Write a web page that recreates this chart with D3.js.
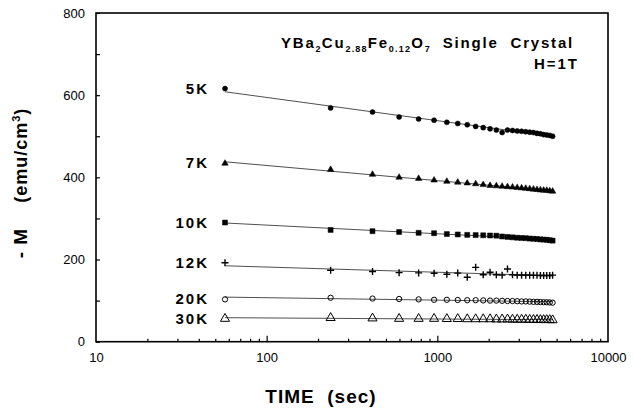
<!DOCTYPE html>
<html>
  <head>
    <meta charset="utf-8">
    <title></title>
    <style>
      body { margin: 0; background: #fff; }
      text { font-family: "Liberation Sans", Arial, sans-serif; fill: #000; }
    </style>
  </head>
  <body>
    <script src="https://d3js.org/d3.v7.min.js"></script>
    <script>
      // measurement times (sec)
      var times = [57, 237, 417, 597, 777, 957, 1137, 1317, 1497, 1677, 1857, 2037, 2217, 2397,
        2577, 2757, 2937, 3117, 3297, 3477, 3657, 3837, 4017, 4197, 4377, 4557, 4737];

      var labels = ['5K', '7K', '10K', '12K', '20K', '30K'];

      // -M (emu/cm3)
      var m5K = [616, 569, 559, 547, 542, 539, 534, 531, 528, 524, 521, 518, 515, 509,
        515, 514, 513, 512, 511, 510, 509, 507, 506, 504, 503, 502, 500];
      var m7K = [434, 419, 407, 400, 397, 393, 390, 388, 386, 384, 382, 380, 379, 378,
        377, 376, 375, 374, 373, 372, 371, 370, 369, 368.5, 368, 367, 366];
      var m10K = [290, 272, 269, 267, 265, 264, 262, 261, 260, 259.5, 259, 258.5, 258, 256,
        255, 254, 253, 252.5, 252, 251, 250.5, 250, 249, 248.5, 248, 247, 246];
      var m12K = [192, 174, 171, 168, 167.5, 166.5, 164, 167, 157, 181, 163, 169, 163, 162,
        177, 163, 162, 162, 162, 162, 161.5, 161.5, 161, 161, 161, 161, 162];
      var m20K = [103, 107, 105, 104, 103, 102, 102, 101.5, 101, 101, 100.5, 100, 100, 99.5,
        99, 99, 98.5, 98, 98, 97.5, 97, 97, 96.5, 96, 96, 95.5, 95];
      var m30K = [56, 58, 57, 56, 56, 56, 55.5, 55.5, 55, 55, 55, 55, 54.5, 54.5,
        54.5, 54, 54, 54, 54, 53.5, 53.5, 53.5, 53, 53, 53, 53, 52.5];

      var xMajor = [10, 100, 1000, 10000];
      var yTicks = [0, 100, 200, 300, 400, 500, 600, 700, 800];

      var width = 634, height = 414,
        plot = { left: 96, right: 608, top: 13, bottom: 341.7 };

      var svg = d3.select('body').append('svg')
        .attr('width', width)
        .attr('height', height);

      var x = d3.scaleLog().domain([10, 10000]).range([plot.left, plot.right]);
      var y = d3.scaleLinear().domain([0, 800]).range([plot.bottom, plot.top]);

      // axes
      var minor = [];
      [10, 100, 1000].forEach(function(d) {
        for (var i = 2; i <= 10; i++) minor.push(d * i);
      });
      minor.pop();

      var gx = svg.append('g')
        .attr('transform', 'translate(0,' + plot.bottom + ')')
        .call(d3.axisBottom(x).tickValues(minor).tickSize(-3).tickFormat(''));
      gx.selectAll('.tick line')
        .attr('y2', function(d) { return (d === 100 || d === 1000) ? -6 : -3; })
        .attr('stroke-width', 1.2);
      gx.select('.domain').remove();

      var gxl = svg.append('g')
        .attr('transform', 'translate(0,' + plot.bottom + ')')
        .call(d3.axisBottom(x).tickValues(xMajor).tickSize(0).tickPadding(11)
          .tickFormat(d3.format('d')));
      gxl.select('.domain').remove();
      gxl.selectAll('text').attr('font-size', 13).style('font-family', '"Liberation Sans", Arial, sans-serif');

      var gy = svg.append('g')
        .attr('transform', 'translate(' + plot.left + ',0)')
        .call(d3.axisLeft(y).tickValues(yTicks).tickSize(-4).tickPadding(11)
          .tickFormat(function(d) { return d % 200 === 0 ? d : ''; }));
      gy.select('.domain').remove();
      gy.selectAll('text').attr('font-size', 13).style('font-family', '"Liberation Sans", Arial, sans-serif');
      gy.selectAll('.tick line').attr('stroke-width', 1.2);

      svg.append('rect')
        .attr('x', plot.left).attr('y', plot.top)
        .attr('width', plot.right - plot.left).attr('height', plot.bottom - plot.top)
        .attr('fill', 'none').attr('stroke', '#000').attr('stroke-width', 1.6);

      // series
      var series = [m5K, m7K, m10K, m12K, m20K, m30K];
      var shapes = [
        { type: d3.symbolCircle, size: 20, fill: '#000' },
        { type: d3.symbolTriangle, size: 18, fill: '#000' },
        { type: d3.symbolSquare, size: 25, fill: '#000' },
        { type: 'plus' },
        { type: d3.symbolCircle, size: 22, fill: 'none' },
        { type: d3.symbolTriangle, size: 36, fill: 'none' }
      ];

      series.forEach(function(vals, si) {
        // least squares fit in log10(t)
        var lx = times.map(function(t) { return Math.log10(t); });
        var mx = d3.mean(lx), my = d3.mean(vals);
        var sxy = d3.sum(lx, function(v, i) { return (v - mx) * (vals[i] - my); });
        var sxx = d3.sum(lx, function(v) { return (v - mx) * (v - mx); });
        var b = sxy / sxx, a = my - b * mx;
        var t0 = times[0], t1 = times[times.length - 1];

        svg.append('line')
          .attr('x1', x(t0)).attr('y1', y(a + b * Math.log10(t0)))
          .attr('x2', x(t1)).attr('y2', y(a + b * Math.log10(t1)))
          .attr('stroke', '#222').attr('stroke-width', 0.8);

        var sh = shapes[si];
        var g = svg.append('g');
        g.selectAll('path')
          .data(vals)
          .enter()
          .append('path')
          .attr('transform', function(d, i) {
            return 'translate(' + x(times[i]) + ',' + y(d) + ')';
          })
          .attr('d', function() {
            if (sh.type === 'plus') return 'M-3.5,0H3.5M0,-3.5V3.5';
            return d3.symbol().type(sh.type).size(sh.size)();
          })
          .attr('fill', sh.type === 'plus' ? 'none' : sh.fill)
          .attr('stroke', '#000')
          .attr('stroke-width', sh.type === 'plus' ? 1.4 : (sh.fill === 'none' ? 1 : 0.5));

        svg.append('text')
          .attr('x', x(times[0]) - 16)
          .attr('y', y(vals[0]) + 5)
          .attr('text-anchor', 'end')
          .attr('font-size', 15)
          .attr('font-weight', 'bold')
          .attr('letter-spacing', 2)
          .text(labels[si]);
      });

      // title
      var title = svg.append('text')
        .attr('x', 281).attr('y', 48)
        .attr('font-size', 15)
        .attr('font-weight', 'bold')
        .attr('letter-spacing', 1.8);
      var parts = [['YBa', 0], ['2', 1], ['Cu', 0], ['2.88', 1], ['Fe', 0], ['0.12', 1], ['O', 0], ['7', 1],
        ['\u00a0\u00a0Single\u00a0\u00a0Crystal', 0]];
      var sub = false;
      parts.forEach(function(p) {
        var ts = title.append('tspan').text(p[0]);
        if (p[1] && !sub) { ts.attr('dy', 4).attr('font-size', 9).attr('letter-spacing', 1.2); sub = true; }
        else if (p[1]) { ts.attr('font-size', 9).attr('letter-spacing', 1.2); }
        else if (sub) { ts.attr('dy', -4); sub = false; }
      });

      svg.append('text')
        .attr('x', 579).attr('y', 69)
        .attr('text-anchor', 'end')
        .attr('font-size', 15)
        .attr('font-weight', 'bold')
        .attr('letter-spacing', 2)
        .text('H=1T');

      // axis titles
      var yl = svg.append('text')
        .attr('transform', 'translate(27,183) rotate(-90)')
        .attr('text-anchor', 'middle')
        .attr('font-size', 19)
        .attr('font-weight', 'bold')
        .attr('letter-spacing', 1);
      yl.append('tspan').text('-\u00a0M\u00a0\u00a0\u00a0\u00a0');
      yl.append('tspan').attr('font-size', 18).text('(emu/cm');
      yl.append('tspan').attr('font-size', 11).attr('dy', -7).text('3');
      yl.append('tspan').attr('font-size', 18).attr('dy', 7).text(')');

      svg.append('text')
        .attr('x', 321).attr('y', 403)
        .attr('text-anchor', 'middle')
        .attr('font-size', 19)
        .attr('font-weight', 'bold')
        .attr('letter-spacing', 1)
        .text('TIME\u00a0\u00a0(sec)');
    </script>
  </body>
</html>
